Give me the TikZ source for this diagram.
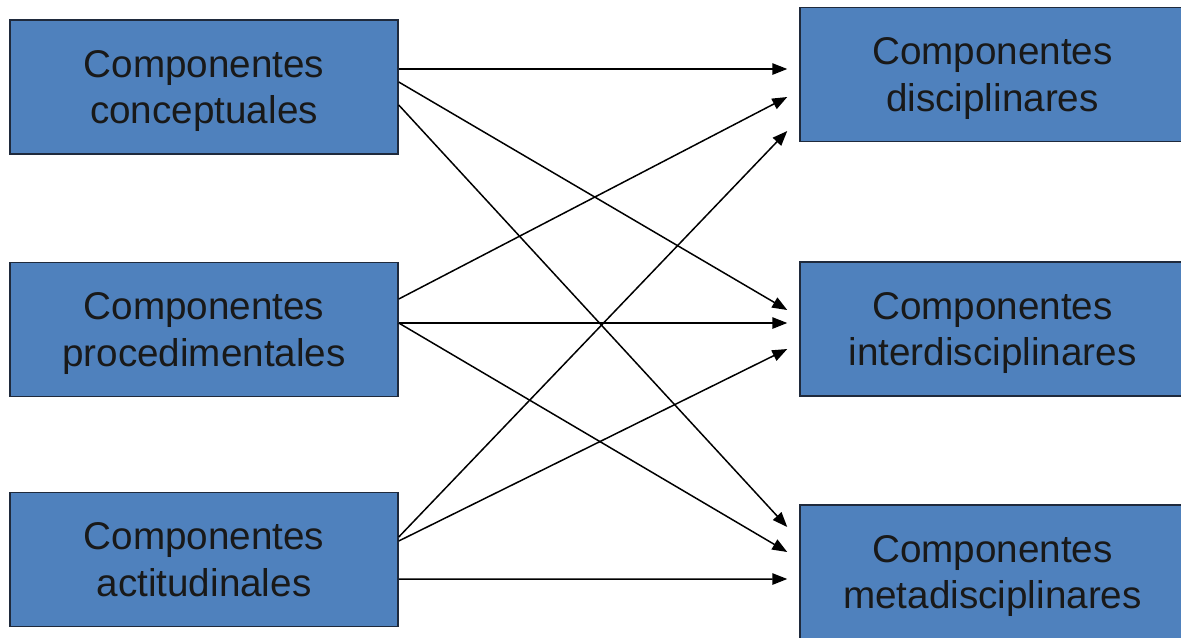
\documentclass[tikz,border=0pt]{standalone}
\usepackage{fontspec}
\setmainfont{Liberation Sans}
\usetikzlibrary{calc,arrows.meta}
\definecolor{boxblue}{HTML}{4F81BD}
\definecolor{boxline}{HTML}{1F2A3C}
\tikzset{
  comp/.style={draw=boxline,line width=0.9pt,fill=boxblue,inner sep=0pt,
    minimum height=2.68cm,align=center,text=black!90,
    font=\fontsize{22}{26.5}\selectfont,text depth=-2pt},
  link/.style={-{Triangle[length=8.5pt,width=6.5pt]},line width=0.85pt}
}
\begin{document}
\begin{tikzpicture}[x=0.02cm,y=-0.02cm]
      \useasboundingbox (0,0) rectangle (1181,637);
      \draw
        (204,87) node[comp,minimum width=7.76cm] (cc){Componentes\\conceptuales}
        (204,329.5) node[comp,minimum width=7.76cm] (cp){Componentes\\procedimentales}
        (204,559.5) node[comp,minimum width=7.76cm] (ca){Componentes\\actitudinales}
        (992.5,74.5) node[comp,minimum width=7.7cm] (cd){Componentes\\disciplinares}
        (992.5,329) node[comp,minimum width=7.7cm] (ci){Componentes\\interdisciplinares}
        (992.5,572) node[comp,minimum width=7.7cm] (cm){Componentes\\metadisciplinares};
      \begin{scope}[link]
        \draw ($(cc.east)+(0,-18)$) to ($(cd.west)+(-12,-5.5)$);
        \draw ($(cc.east)+(0,-5)$) to ($(ci.west)+(-12,-19)$);
        \draw ($(cc.east)+(0,18)$) to ($(cm.west)+(-12,-45)$);
        \draw ($(cp.east)+(0,-30.5)$) to ($(cd.west)+(-12,22.5)$);
        \draw ($(cp.east)+(0,-6.5)$) to ($(ci.west)+(-12,-6)$);
        \draw ($(cp.east)+(0,-6.5)$) to ($(cm.west)+(-12,-20)$);
        \draw ($(ca.east)+(0,-22.5)$) to ($(cd.west)+(-12,56.5)$);
        \draw ($(ca.east)+(0,-18.5)$) to ($(ci.west)+(-12,20)$);
        \draw ($(ca.east)+(0,19.5)$) to ($(cm.west)+(-12,7)$);
      \end{scope}
    \end{tikzpicture}
\end{document}
